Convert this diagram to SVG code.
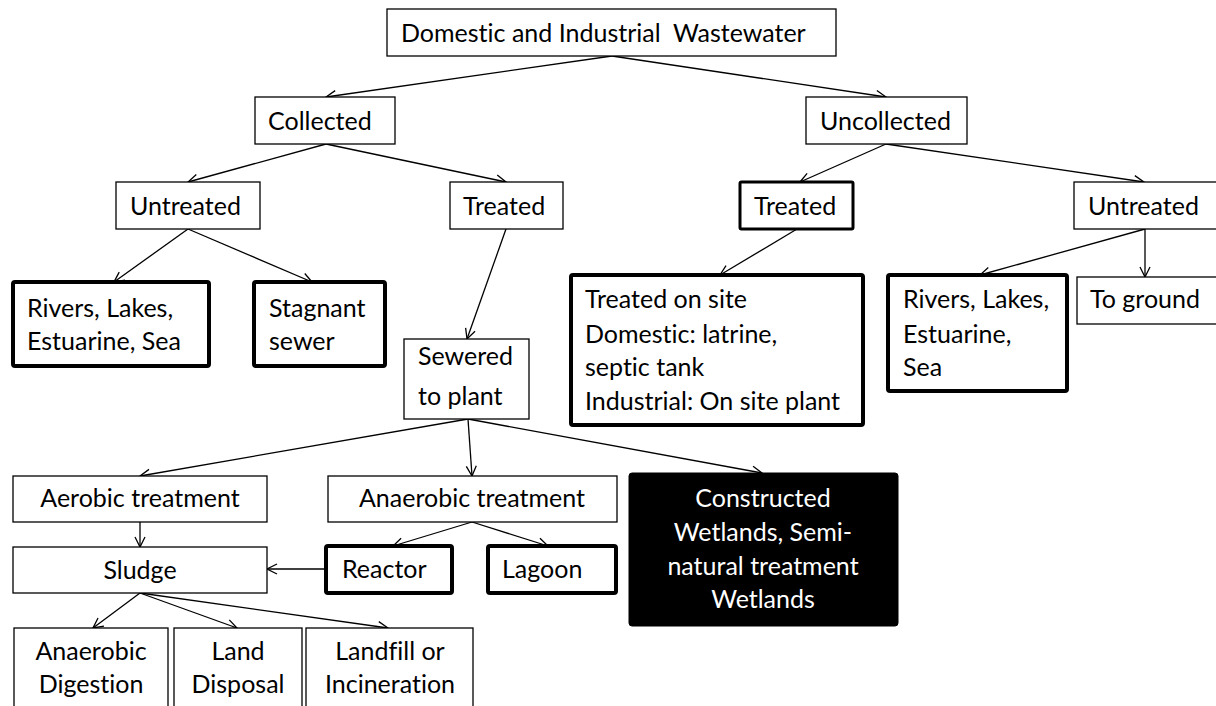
<svg xmlns="http://www.w3.org/2000/svg" width="1216" height="706" viewBox="0 0 1216 706">
<style>
text{font-family:Lato,"Open Sans","Liberation Sans",sans-serif;font-size:25px;fill:#000;font-variant-ligatures:none;font-feature-settings:"liga" 0,"dlig" 0}
.c{text-anchor:middle}
.w{fill:#fff}
.n{fill:#fff;stroke:#000;stroke-width:1.3}
.b{fill:#fff;stroke:#000;stroke-width:4}
.b3{fill:#fff;stroke:#000;stroke-width:3}
.k{fill:#000;stroke:#000;stroke-width:1}
#connectors line{stroke:#000;stroke-width:1.3;marker-end:url(#arr)}
</style>
<defs>
<marker id="arr" markerUnits="userSpaceOnUse" viewBox="0 0 12 12" markerWidth="12" markerHeight="12" refX="11" refY="6" orient="auto">
<path d="M1,1 L11,6 L1,11" fill="none" stroke="#000" stroke-width="1.3"/>
</marker>
</defs>
<rect width="1216" height="706" fill="#fff"/>
<g id="connectors">
<line x1="612" y1="56" x2="326" y2="97"/>
<line x1="612" y1="56" x2="886" y2="97"/>
<line x1="326" y1="144" x2="188" y2="182"/>
<line x1="326" y1="144" x2="506" y2="182"/>
<line x1="886" y1="144" x2="800" y2="182"/>
<line x1="886" y1="144" x2="1144" y2="182"/>
<line x1="188" y1="229" x2="114" y2="282"/>
<line x1="188" y1="229" x2="312" y2="282"/>
<line x1="506" y1="229" x2="467" y2="339"/>
<line x1="797" y1="229" x2="720" y2="275"/>
<line x1="1145" y1="229" x2="980" y2="275"/>
<line x1="1145" y1="229" x2="1145" y2="277"/>
<line x1="468" y1="419" x2="140" y2="476"/>
<line x1="468" y1="419" x2="472" y2="476"/>
<line x1="468" y1="419" x2="762" y2="473"/>
<line x1="140" y1="522" x2="140" y2="547"/>
<line x1="472" y1="522" x2="393" y2="546"/>
<line x1="472" y1="522" x2="548" y2="546"/>
<line x1="325" y1="569" x2="267" y2="569"/>
<line x1="140" y1="593" x2="93" y2="628"/>
<line x1="140" y1="593" x2="237" y2="628"/>
<line x1="140" y1="593" x2="388" y2="628"/>
</g>
<g id="n-top"><rect class="n" x="387" y="9" width="449" height="47"/><text x="401" y="42" xml:space="preserve">Domestic and Industrial  Wastewater</text></g>
<g id="n-collected"><rect class="n" x="255" y="97" width="140" height="47"/><text x="268" y="130">Collected</text></g>
<g id="n-uncollected"><rect class="n" x="806" y="97" width="161" height="47"/><text x="820" y="130">Uncollected</text></g>
<g id="n-untreated-l"><rect class="n" x="116" y="182" width="144" height="47"/><text x="130" y="215">Untreated</text></g>
<g id="n-treated-l"><rect class="n" x="450" y="182" width="113" height="47"/><text x="463" y="215">Treated</text></g>
<g id="n-treated-r"><rect class="b3" x="740" y="182" width="113" height="47" rx="1.5"/><text x="754" y="215">Treated</text></g>
<g id="n-untreated-r"><rect class="n" x="1074" y="182" width="150" height="47"/><text x="1088" y="215">Untreated</text></g>
<g id="n-rivers-l"><rect class="b" x="13" y="282" width="196" height="84" rx="2"/><text x="27" y="317">Rivers, Lakes,</text><text x="27" y="350">Estuarine, Sea</text></g>
<g id="n-stagnant"><rect class="b" x="254" y="282" width="131" height="84" rx="2"/><text x="269" y="317">Stagnant</text><text x="269" y="350">sewer</text></g>
<g id="n-sewered"><rect class="n" x="404" y="339" width="125" height="80"/><text x="418" y="365">Sewered</text><text x="418" y="405">to plant</text></g>
<g id="n-onsite"><rect class="b" x="571" y="275" width="292" height="150" rx="2"/><text x="585" y="308">Treated on site</text><text x="585" y="343">Domestic: latrine,</text><text x="585" y="376">septic tank</text><text x="585" y="410">Industrial: On site plant</text></g>
<g id="n-rivers-r"><rect class="b" x="888" y="275" width="179" height="116" rx="2"/><text x="903" y="308">Rivers, Lakes,</text><text x="903" y="343">Estuarine,</text><text x="903" y="376">Sea</text></g>
<g id="n-ground"><rect class="n" x="1077" y="277" width="150" height="47"/><text x="1090" y="308">To ground</text></g>
<g id="n-aerobic"><rect class="n" x="13" y="476" width="254" height="46"/><text class="c" x="140" y="507">Aerobic treatment</text></g>
<g id="n-anaerobic"><rect class="n" x="328" y="476" width="289" height="46"/><text class="c" x="472" y="507">Anaerobic treatment</text></g>
<g id="n-wetlands"><rect class="k" x="629" y="473" width="269" height="153" rx="3"/><text class="c w" x="763" y="507">Constructed</text><text class="c w" x="763" y="541">Wetlands, Semi-</text><text class="c w" x="763" y="575">natural treatment</text><text class="c w" x="763" y="608">Wetlands</text></g>
<g id="n-sludge"><rect class="n" x="13" y="547" width="254" height="46"/><text class="c" x="140" y="579">Sludge</text></g>
<g id="n-reactor"><rect class="b" x="326" y="546" width="126" height="47" rx="2"/><text x="342" y="578">Reactor</text></g>
<g id="n-lagoon"><rect class="b" x="488" y="546" width="128" height="47" rx="2"/><text x="502" y="578">Lagoon</text></g>
<g id="n-digestion"><rect class="n" x="14" y="628" width="154" height="90"/><text class="c" x="91" y="660">Anaerobic</text><text class="c" x="91" y="693">Digestion</text></g>
<g id="n-land"><rect class="n" x="174" y="628" width="128" height="90"/><text class="c" x="238" y="660">Land</text><text class="c" x="238" y="693">Disposal</text></g>
<g id="n-landfill"><rect class="n" x="306" y="628" width="167" height="90"/><text class="c" x="390" y="660">Landfill or</text><text class="c" x="390" y="693">Incineration</text></g>
</svg>
